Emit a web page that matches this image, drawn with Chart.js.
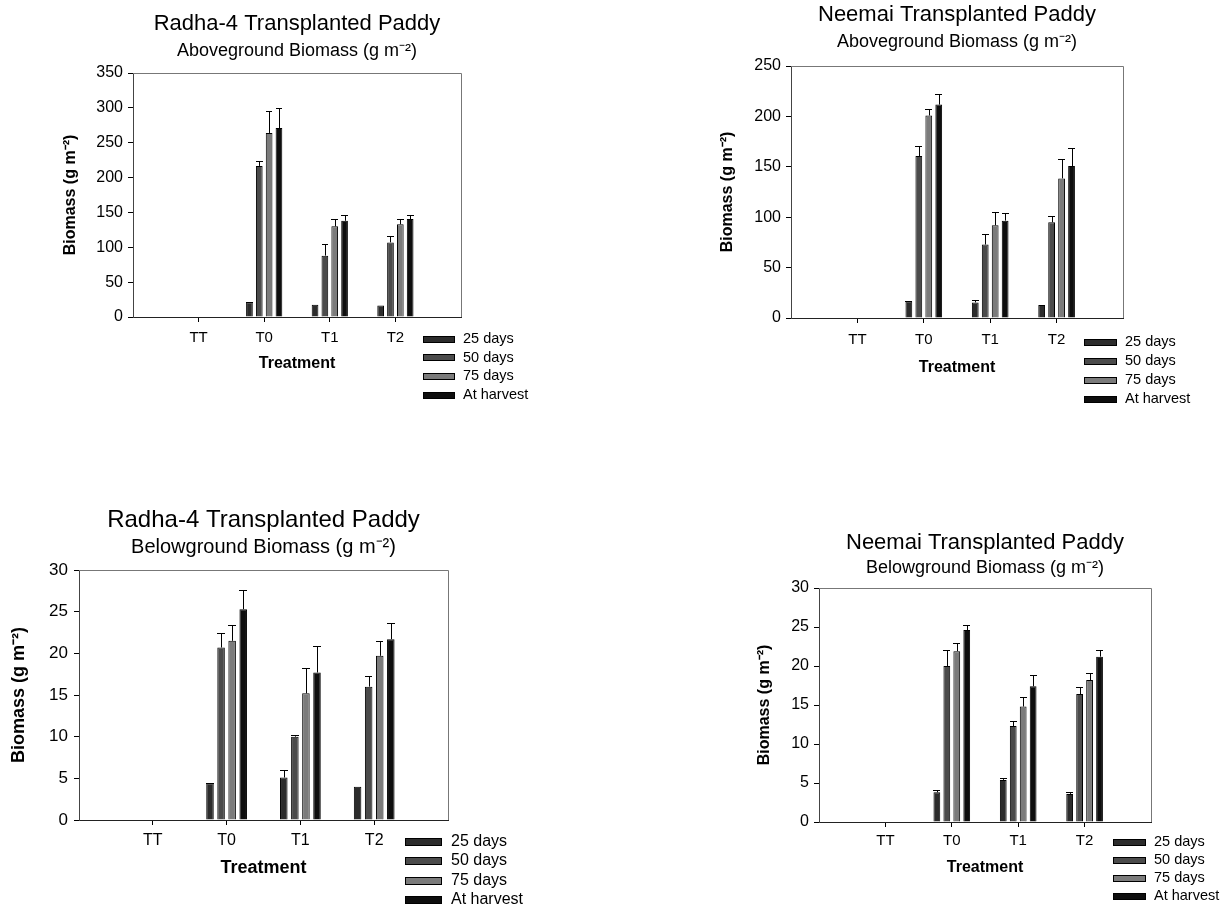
<!DOCTYPE html>
<html lang="en">
<head>
<meta charset="UTF-8">
<title>Transplanted Paddy Biomass</title>
<script src="https://cdn.jsdelivr.net/npm/chart.js@4.4.0/dist/chart.umd.min.js"></script>
<style>
  * { margin: 0; padding: 0; box-sizing: border-box; }
  body { background: #fff; width: 1228px; height: 908px; position: relative; overflow: hidden; font-family: 'Liberation Sans', Arial, sans-serif; }
  .panel { position: absolute; }
  .legend-row { position: absolute; white-space: nowrap; color: #000; line-height: 1; }
  .swatch { position: absolute; border: 1px solid #000; }
</style>
</head>
<body>
<div class="panel" style="left:0;top:0"><canvas id="c1" width="614" height="454"></canvas></div>
<div class="panel" style="left:614px;top:0"><canvas id="c2" width="614" height="454"></canvas></div>
<div class="panel" style="left:0;top:454px"><canvas id="c3" width="614" height="454"></canvas></div>
<div class="panel" style="left:614px;top:454px"><canvas id="c4" width="614" height="454"></canvas></div>
<div id="legends"></div>

<script>
// ---- data ----
const categories = ['', 'TT', 'T0', 'T1', 'T2', ''];
const seriesNames = ['25 days', '50 days', '75 days', 'At harvest'];
const seriesColors = ['#2c2c2c', '#4b4b4b', '#7b7b7b', '#0e0e0e'];

// Radha-4, aboveground (g m-2)
const radhaAbove25 = [null, 0, 21, 17.5, 16.5, null];
const radhaAbove50 = [null, 0, 216.7, 88, 107, null];
const radhaAbove75 = [null, 0, 264, 130, 133, null];
const radhaAboveHarvest = [null, 0, 271, 138, 140.5, null];
const radhaAbove25Err = [0, 0, 1, 0, 0, 0];
const radhaAbove50Err = [0, 0, 6.5, 16.5, 9.5, 0];
const radhaAbove75Err = [0, 0, 31.5, 11, 8, 0];
const radhaAboveHarvestErr = [0, 0, 29, 8.5, 6, 0];

// Neemai, aboveground (g m-2)
const neemaiAbove25 = [null, 0, 16.5, 15.5, 12.9, null];
const neemaiAbove50 = [null, 0, 160.6, 72.9, 95, null];
const neemaiAbove75 = [null, 0, 200.9, 92, 138.5, null];
const neemaiAboveHarvest = [null, 0, 211.7, 96.6, 150.7, null];
const neemaiAbove25Err = [0, 0, 0.8, 2, 0, 0];
const neemaiAbove50Err = [0, 0, 10, 10, 6.6, 0];
const neemaiAbove75Err = [0, 0, 6, 13.5, 19, 0];
const neemaiAboveHarvestErr = [0, 0, 11, 8, 17.5, 0];

// Radha-4, belowground (g m-2)
const radhaBelow25 = [null, 0, 4.4, 5.1, 4.0, null];
const radhaBelow50 = [null, 0, 20.7, 10.0, 16.0, null];
const radhaBelow75 = [null, 0, 21.5, 15.2, 19.7, null];
const radhaBelowHarvest = [null, 0, 25.3, 17.7, 21.7, null];
const radhaBelow25Err = [0, 0, 0.1, 0.9, 0, 0];
const radhaBelow50Err = [0, 0, 1.7, 0.2, 1.3, 0];
const radhaBelow75Err = [0, 0, 1.9, 3.0, 1.8, 0];
const radhaBelowHarvestErr = [0, 0, 2.3, 3.2, 1.9, 0];

// Neemai, belowground (g m-2)
const neemaiBelow25 = [null, 0, 3.8, 5.4, 3.6, null];
const neemaiBelow50 = [null, 0, 20.0, 12.3, 16.4, null];
const neemaiBelow75 = [null, 0, 21.9, 14.8, 18.2, null];
const neemaiBelowHarvest = [null, 0, 24.6, 17.4, 21.2, null];
const neemaiBelow25Err = [0, 0, 0.27, 0.3, 0.3, 0];
const neemaiBelow50Err = [0, 0, 2.0, 0.6, 0.9, 0];
const neemaiBelow75Err = [0, 0, 1.0, 1.2, 0.9, 0];
const neemaiBelowHarvestErr = [0, 0, 0.7, 1.4, 0.9, 0];

const FONT = "'Liberation Sans', Arial, sans-serif";
Chart.defaults.font.family = FONT;
Chart.defaults.color = '#000';

// error bars (upper only) + top/right frame of the plot box
const errorBars = {
  id: 'errorBars',
  afterDatasetsDraw(chart) {
    const ctx = chart.ctx;
    const yScale = chart.scales.y;
    ctx.save();
    ctx.strokeStyle = '#000';
    ctx.lineWidth = 1;
    chart.data.datasets.forEach((ds, di) => {
      const meta = chart.getDatasetMeta(di);
      meta.data.forEach((bar, i) => {
        const v = ds.data[i], e = ds.errors[i];
        if (v == null || !e) return;
        const top = Math.round(yScale.getPixelForValue(v + e)) + 0.5;
        const x = Math.round(bar.x) + 0.5;
        const half = bar.width / 2;
        ctx.beginPath();
        ctx.moveTo(x, bar.y);
        ctx.lineTo(x, top);
        ctx.moveTo(Math.round(bar.x - half), top);
        ctx.lineTo(Math.round(bar.x + half), top);
        ctx.stroke();
      });
    });
    ctx.restore();
  },
  afterDraw(chart) {
    const a = chart.chartArea, ctx = chart.ctx;
    ctx.save();
    ctx.strokeStyle = '#777';
    ctx.lineWidth = 1;
    ctx.beginPath();
    ctx.moveTo(Math.round(a.left), Math.round(a.top) + 0.5);
    ctx.lineTo(Math.round(a.right) + 0.5, Math.round(a.top) + 0.5);
    ctx.lineTo(Math.round(a.right) + 0.5, Math.round(a.bottom));
    ctx.stroke();
    ctx.restore();
  }
};

function buildPanel(id, cfg, g) {
  const W = 614, H = 454;
  const lhT = g.titleSize * 1.2, lhS = g.subSize * 1.2, lhA = g.axisSize * 1.2;
  const scaleLeft = g.yLabelX - lhA / 2;
  const yW = g.L - scaleLeft;
  const xBottom = g.xLabelY + lhA / 2;
  const tickFontY = { family: FONT, size: g.yTickSize };
  const tickFontX = { family: FONT, size: g.xTickSize };
  const axisFont = { family: FONT, size: g.axisSize, weight: 'bold' };
  const hiddenEdge = c => (c.index === 0 || c.index === categories.length - 1) ? 'rgba(0,0,0,0)' : '#000';

  new Chart(document.getElementById(id), {
    type: 'bar',
    data: {
      labels: categories,
      datasets: cfg.values.map((vals, i) => ({
        label: seriesNames[i],
        data: vals,
        errors: cfg.errors[i],
        backgroundColor: seriesColors[i],
        borderColor: '#000',
        borderWidth: 1,
        categoryPercentage: 0.6,
        barPercentage: 0.68
      }))
    },
    options: {
      responsive: false,
      animation: false,
      events: [],
      layout: { padding: { left: scaleLeft - g.ox, right: g.ox + W - g.R, top: 0, bottom: g.oy + H - xBottom } },
      plugins: {
        legend: { display: false },
        tooltip: { enabled: false },
        title: {
          display: true, text: cfg.title, fullSize: false, color: '#000',
          font: { family: FONT, size: g.titleSize, weight: 'normal' },
          padding: { top: g.titleY - g.oy - lhT / 2, bottom: 0 }
        },
        subtitle: {
          display: true, text: cfg.subtitle, fullSize: false, color: '#000',
          font: { family: FONT, size: g.subSize, weight: 'normal' },
          padding: { top: g.subY - g.titleY - lhT / 2 - lhS / 2, bottom: g.T - g.subY - lhS / 2 }
        }
      },
      scales: {
        x: {
          offset: false,
          grid: { offset: false, drawOnChartArea: false, drawTicks: true, tickLength: 5, tickColor: hiddenEdge },
          border: { color: '#222', width: 1 },
          ticks: { color: '#000', font: tickFontX, padding: g.xTickPad, maxRotation: 0, autoSkip: false },
          title: { display: true, text: 'Treatment', color: '#000', font: axisFont, padding: { top: 0, bottom: 0 } },
          afterFit: s => { s.height = xBottom - g.B; }
        },
        y: {
          min: 0, max: g.yMax,
          grid: { drawOnChartArea: false, drawTicks: true, tickLength: 5, tickColor: '#000' },
          border: { color: '#444', width: 1 },
          ticks: { stepSize: g.yStep, color: '#000', font: tickFontY, padding: g.yTickPad },
          title: { display: true, text: 'Biomass (g m\u207B\u00B2)', color: '#000', font: axisFont, padding: { top: 0, bottom: 0 } },
          afterFit: s => { s.width = yW; }
        }
      }
    },
    plugins: [errorBars]
  });

  // legend under the lower right corner of the plot
  const box = document.getElementById('legends');
  seriesNames.forEach((name, i) => {
    const cy = g.legY + i * g.legStep;
    const sw = document.createElement('div');
    sw.className = 'swatch';
    sw.style.cssText = `left:${g.legX}px;top:${cy - g.legH / 2}px;width:${g.legW}px;height:${g.legH}px;background:${seriesColors[i]}`;
    box.appendChild(sw);
    const row = document.createElement('div');
    row.className = 'legend-row';
    row.style.cssText = `left:${g.legTextX}px;top:${cy - g.legFont / 2 - 1}px;font-size:${g.legFont}px`;
    row.textContent = name;
    box.appendChild(row);
  });
}

buildPanel('c1', {
  title: 'Radha-4 Transplanted Paddy',
  subtitle: 'Aboveground Biomass (g m\u207B\u00B2)',
  values: [radhaAbove25, radhaAbove50, radhaAbove75, radhaAboveHarvest],
  errors: [radhaAbove25Err, radhaAbove50Err, radhaAbove75Err, radhaAboveHarvestErr]
}, { ox: 0, oy: 0, L: 133, R: 461, T: 73, B: 317, yMax: 350, yStep: 50,
     titleSize: 22, subSize: 18, titleY: 24, subY: 51.5, axisSize: 16, yTickSize: 16, xTickSize: 15,
     yLabelX: 70.5, xLabelY: 364, xTickPad: 7, yTickPad: 5,
     legX: 423, legW: 32, legH: 7, legTextX: 463, legY: 339, legStep: 18.8, legFont: 14.5 });

buildPanel('c2', {
  title: 'Neemai Transplanted Paddy',
  subtitle: 'Aboveground Biomass (g m\u207B\u00B2)',
  values: [neemaiAbove25, neemaiAbove50, neemaiAbove75, neemaiAboveHarvest],
  errors: [neemaiAbove25Err, neemaiAbove50Err, neemaiAbove75Err, neemaiAboveHarvestErr]
}, { ox: 614, oy: 0, L: 791, R: 1123, T: 66, B: 318, yMax: 250, yStep: 50,
     titleSize: 22, subSize: 18, titleY: 15, subY: 42.5, axisSize: 16, yTickSize: 16, xTickSize: 15,
     yLabelX: 728, xLabelY: 368, xTickPad: 8, yTickPad: 5,
     legX: 1084, legW: 33, legH: 7, legTextX: 1125, legY: 342, legStep: 19, legFont: 14.5 });

buildPanel('c3', {
  title: 'Radha-4 Transplanted Paddy',
  subtitle: 'Belowground Biomass (g m\u207B\u00B2)',
  values: [radhaBelow25, radhaBelow50, radhaBelow75, radhaBelowHarvest],
  errors: [radhaBelow25Err, radhaBelow50Err, radhaBelow75Err, radhaBelowHarvestErr]
}, { ox: 0, oy: 454, L: 79, R: 448, T: 570, B: 820, yMax: 30, yStep: 5,
     titleSize: 24, subSize: 20, titleY: 520, subY: 547, axisSize: 18, yTickSize: 17, xTickSize: 16,
     yLabelX: 19, xLabelY: 867.7, xTickPad: 6, yTickPad: 6,
     legX: 405, legW: 37, legH: 8, legTextX: 451, legY: 842, legStep: 19.3, legFont: 16 });

buildPanel('c4', {
  title: 'Neemai Transplanted Paddy',
  subtitle: 'Belowground Biomass (g m\u207B\u00B2)',
  values: [neemaiBelow25, neemaiBelow50, neemaiBelow75, neemaiBelowHarvest],
  errors: [neemaiBelow25Err, neemaiBelow50Err, neemaiBelow75Err, neemaiBelowHarvestErr]
}, { ox: 614, oy: 454, L: 819, R: 1151, T: 588, B: 822, yMax: 30, yStep: 5,
     titleSize: 22, subSize: 18, titleY: 542.5, subY: 568, axisSize: 16, yTickSize: 16, xTickSize: 15,
     yLabelX: 765, xLabelY: 867.7, xTickPad: 5, yTickPad: 5,
     legX: 1113, legW: 33, legH: 7, legTextX: 1154, legY: 842.7, legStep: 17.8, legFont: 14.5 });
</script>
</body>
</html>
